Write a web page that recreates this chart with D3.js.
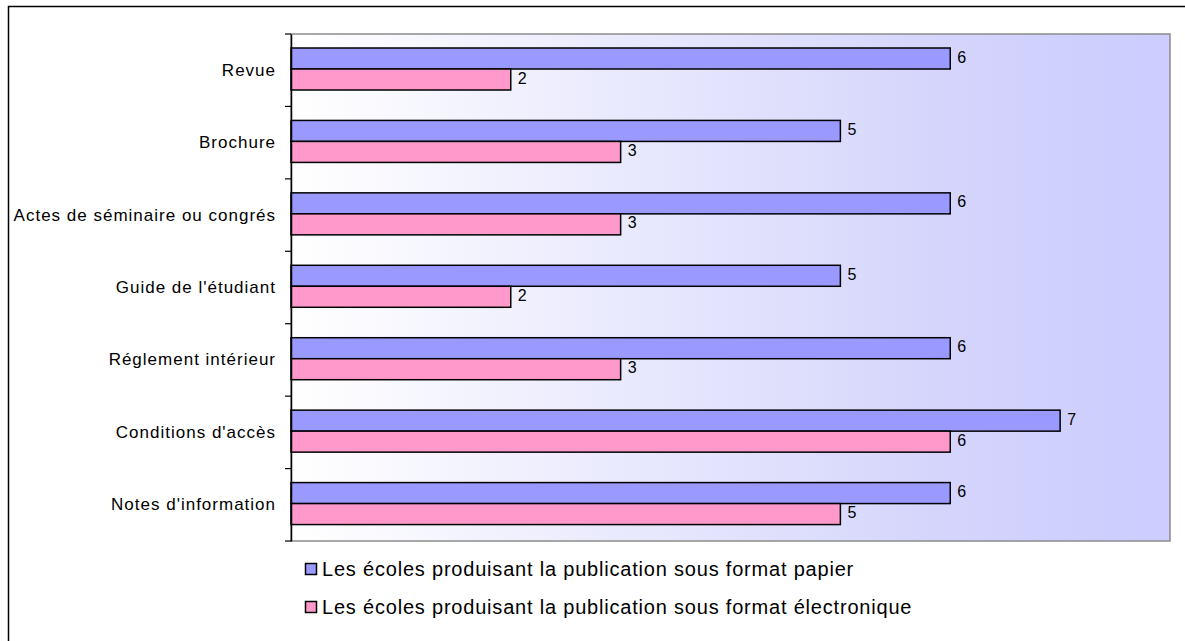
<!DOCTYPE html>
<html>
<head>
<meta charset="utf-8">
<script src="https://cdn.jsdelivr.net/npm/d3@7"></script>
<style>
  html, body { margin: 0; padding: 0; background: #fff; }
  svg { display: block; font-family: "Liberation Sans", Arial, sans-serif; }
</style>
</head>
<body>
<svg id="chart" width="1185" height="641"></svg>
<script>
// Publication types and number of schools producing each one
const categories = [
  "Revue",
  "Brochure",
  "Actes de séminaire ou congrés",
  "Guide de l'étudiant",
  "Réglement intérieur",
  "Conditions d'accès",
  "Notes d'information"
];
const paperValues = [6, 5, 6, 5, 6, 7, 6];
const electronicValues = [2, 3, 3, 2, 3, 6, 5];
const seriesNames = [
  "Les écoles produisant la publication sous format papier",
  "Les écoles produisant la publication sous format électronique"
];
const seriesColors = ["#9999ff", "#ff99cc"];
const xMax = 8;

const svg = d3.select("#chart");

// outer frame
svg.append("rect")
  .attr("x", 8.5).attr("y", 6.5)
  .attr("width", 1200).attr("height", 700)
  .attr("fill", "#fff").attr("stroke", "#000").attr("stroke-width", 1.5);

const plot = { left: 291, top: 34, right: 1170, bottom: 541 };

const x = d3.scaleLinear().domain([0, xMax]).range([plot.left, plot.right]);
const y = d3.scaleBand().domain(categories).range([plot.top, plot.bottom]).paddingInner(0).paddingOuter(0);
const inner = d3.scaleBand().domain([0, 1]).range([14, 14 + 42]);

// plot background gradient
const defs = svg.append("defs");
const grad = defs.append("linearGradient").attr("id", "bg").attr("x1", "0").attr("x2", "1").attr("y1", "0").attr("y2", "0");
grad.append("stop").attr("offset", "0").attr("stop-color", "#ffffff");
grad.append("stop").attr("offset", "0.75").attr("stop-color", "#d4d4fc");
grad.append("stop").attr("offset", "1").attr("stop-color", "#ccccff");

svg.append("rect")
  .attr("x", plot.left).attr("y", plot.top)
  .attr("width", plot.right - plot.left).attr("height", plot.bottom - plot.top)
  .attr("fill", "url(#bg)").attr("stroke", "#8c8c8c").attr("stroke-width", 1.5);

// bars with value labels
const seriesData = [paperValues, electronicValues];
seriesData.forEach((vals, s) => {
  const g = svg.append("g");
  g.selectAll("rect").data(categories).join("rect")
    .attr("x", x(0))
    .attr("y", d => y(d) + inner(s))
    .attr("width", (d, i) => x(vals[i]) - x(0))
    .attr("height", inner.bandwidth())
    .attr("fill", seriesColors[s])
    .attr("stroke", "#000").attr("stroke-width", 1.5);
  g.selectAll("text").data(categories).join("text")
    .attr("x", (d, i) => x(vals[i]) + 7)
    .attr("y", d => y(d) + inner(s) + inner.bandwidth() / 2 + 4)
    .attr("font-size", 16)
    .attr("fill", "#000")
    .text((d, i) => vals[i]);
});

// category axis
const yAxis = d3.axisLeft(y).tickSize(0).tickPadding(15);
const axG = svg.append("g").attr("transform", `translate(${plot.left},0)`).call(yAxis);
axG.select(".domain").attr("stroke", "#000").attr("stroke-width", 1.5);
axG.selectAll("text")
  .attr("font-size", 17)
  .attr("letter-spacing", 1.0)
  .attr("fill", "#000")
  .attr("font-family", "Liberation Sans, Arial, sans-serif");
// tick marks at band boundaries
const bounds = categories.map(c => y(c)).concat([plot.bottom]);
svg.append("g").selectAll("line").data(bounds).join("line")
  .attr("x1", plot.left - 6).attr("x2", plot.left)
  .attr("y1", d => d).attr("y2", d => d)
  .attr("stroke", "#000").attr("stroke-width", 1.2);

// legend
const legend = svg.append("g");
seriesNames.forEach((name, i) => {
  const base = 576 + i * 38;
  legend.append("rect")
    .attr("x", 305.5).attr("y", base - 12.5)
    .attr("width", 11).attr("height", 11)
    .attr("fill", seriesColors[i]).attr("stroke", "#000").attr("stroke-width", 1.5);
  legend.append("text")
    .attr("x", 322).attr("y", base)
    .attr("font-size", 20)
    .attr("letter-spacing", 0.8)
    .attr("fill", "#000")
    .text(name);
});
</script>
</body>
</html>
